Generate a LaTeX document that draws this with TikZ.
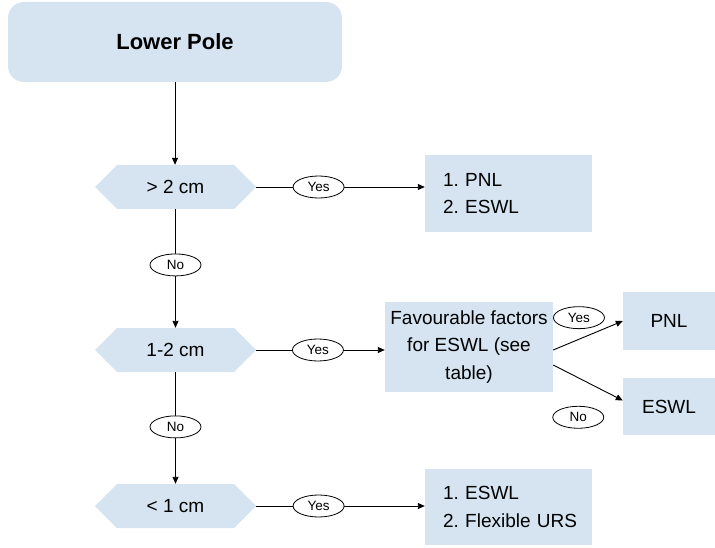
\documentclass[tikz,border=0pt]{standalone}
\usepackage{fontspec}
\setmainfont{Liberation Sans}
\frenchspacing
\usetikzlibrary{arrows.meta,shapes.geometric,calc}
\definecolor{boxfill}{RGB}{213,228,240}
\begin{document}
\begin{tikzpicture}[x=1pt,y=-1pt,
  txt/.style={font=\fontsize{19}{27.5}\selectfont},
  box/.style={txt, fill=boxfill, inner sep=0pt},
  lst/.style={box, minimum width=167pt, inner xsep=18pt, text width=131pt, align=left},
  hexa/.style={txt, inner sep=0pt, minimum width=161pt, minimum height=44pt,
    path picture={\fill[boxfill] (path picture bounding box.west)
      -- ([xshift=22pt]path picture bounding box.north west)
      -- ([xshift=-22pt]path picture bounding box.north east)
      -- (path picture bounding box.east)
      -- ([xshift=-22pt]path picture bounding box.south east)
      -- ([xshift=22pt]path picture bounding box.south west) -- cycle;}},
  lab/.style={ellipse, draw=black, fill=white, line width=0.8pt, inner sep=0pt,
    minimum width=51pt, minimum height=22pt, font=\fontsize{13.5}{15}\selectfont},
  arr/.style={line width=0.9pt, -{Triangle[length=7pt,width=6pt]}}]
\useasboundingbox (0,0) rectangle (715,548);
% nodes
\node[box, rounded corners=16pt, minimum width=334pt, minimum height=80pt,
  font=\fontsize{22}{26}\selectfont\bfseries] (lp) at (175,42) {Lower Pole};
\node[hexa] (h1) at (175.5,187) {> 2 cm};
\node[hexa] (h2) at (175.5,350) {1-2 cm};
\node[hexa] (h3) at (175.5,506) {< 1 cm};
\node[lst, minimum height=77pt] (b1) at (508.5,193.5)
  {\mbox{1. PNL}\\\mbox{2. ESWL}};
\node[lst, minimum height=76pt] (b3) at (508.5,507)
  {\mbox{1. ESWL}\\\mbox{2. Flexible URS}};
\node[box, minimum width=168pt, minimum height=90pt, align=center] (fav) at (469,347)
  {Favourable factors\\for ESWL (see\\table)};
\node[box, minimum width=92pt, minimum height=58pt] (pnl) at (669,321) {PNL};
\node[box, minimum width=92pt, minimum height=57pt] (esl) at (669,406.5) {ESWL};
% connectors
\draw[arr] (lp.south) -- (lp.south |- h1.north);
\draw[arr] (h1.south) -- node[lab, pos=0.47] {No} (h2.north);
\draw[arr] (h2.south) -- node[lab, pos=0.49] {No} (h3.north);
\draw[arr] (h1.east) -- node[lab, pos=0.37] {Yes} (h1.east -| b1.west);
\draw[arr] (h2.east) -- node[lab, pos=0.48] {Yes} (h2.east -| fav.west);
\draw[arr] (h3.east) -- node[lab, pos=0.37] {Yes} (h3.east -| b3.west);
\draw[arr] ($(fav.east)+(0,3)$) -- node[lab, pos=0.37, yshift=21.6pt] {Yes} (pnl.west);
\draw[arr] ($(fav.east)+(0,18)$) -- node[lab, pos=0.36, yshift=-39.5pt] {No} ($(esl.west)+(0,-6)$);
\end{tikzpicture}
\end{document}
